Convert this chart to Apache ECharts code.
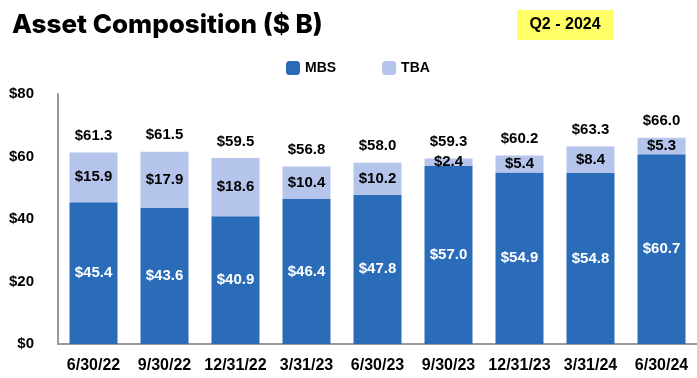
<!DOCTYPE html>
<html><head><meta charset="utf-8">
<script src="https://cdn.jsdelivr.net/npm/echarts@6/dist/echarts.min.js"></script>
<style>html,body{margin:0;padding:0;background:#fff}#c{width:697px;height:378px}</style>
</head><body><div id="c"></div>
<script>
const categories = ['6/30/22','9/30/22','12/31/22','3/31/23','6/30/23','9/30/23','12/31/23','3/31/24','6/30/24'];
const mbs = [45.4, 43.6, 40.9, 46.4, 47.8, 57.0, 54.9, 54.8, 60.7];
const tba = [15.9, 17.9, 18.6, 10.4, 10.2, 2.4, 5.4, 8.4, 5.3];
const totals = [61.3, 61.5, 59.5, 56.8, 58.0, 59.3, 60.2, 63.3, 66.0];
const yTicks = [0, 20, 40, 60, 80];

const F = '"Liberation Sans", Arial, sans-serif';
const chart = echarts.init(document.getElementById('c'), null, {renderer:'canvas'});
chart.setOption({
  animation: false,
  title: {
    text: 'Asset Composition ($ B)', left: 7, top: 7,
    textStyle: {fontFamily: 'Inter, "Liberation Sans", sans-serif', fontWeight: 800, fontSize: 26, color: '#000'}
  },
  graphic: [{
    type: 'group', left: 517, top: 10,
    children: [
      {type: 'rect', shape: {x: 0, y: 0, width: 96, height: 30}, style: {fill: '#FFFF66'}},
      {type: 'text', x: 48, y: 15, style: {text: 'Q2 - 2024', align: 'center', verticalAlign: 'middle', fontFamily: F, fontWeight: 'bold', fontSize: 16, fill: '#000'}}
    ]
  }],
  legend: {
    data: ['MBS', 'TBA'], top: 56, left: 281, itemWidth: 14, itemHeight: 14, itemGap: 46,
    textStyle: {fontFamily: F, fontWeight: 'bold', fontSize: 14, color: '#000'}
  },
  grid: {left: 58, right: -2, top: 94, bottom: 34, containLabel: false},
  xAxis: {
    type: 'category', data: categories,
    axisLine: {lineStyle: {color: '#999', width: 2}},
    axisTick: {show: false},
    axisLabel: {interval: 0, fontFamily: F, fontWeight: 'bold', fontSize: 16, color: '#000', margin: 14}
  },
  yAxis: {
    type: 'value', min: yTicks[0], max: yTicks[yTicks.length-1], interval: 20,
    axisLine: {show: true, lineStyle: {color: '#999', width: 2}},
    axisTick: {show: false},
    splitLine: {show: false},
    axisLabel: {fontFamily: F, fontWeight: 'bold', fontSize: 15, color: '#000', margin: 24, formatter: v => '$' + v}
  },
  series: [
    {
      name: 'MBS', type: 'bar', stack: 'a', data: mbs, barWidth: 48,
      itemStyle: {color: '#2B6CB9'},
      label: {show: true, position: 'inside', color: '#fff', fontFamily: F, fontWeight: 'bold', fontSize: 15, formatter: p => '$' + p.value.toFixed(1)}
    },
    {
      name: 'TBA', type: 'bar', stack: 'a', data: tba, barWidth: 48,
      itemStyle: {color: '#B5C4EA'},
      label: {show: true, position: 'inside', color: '#000', fontFamily: F, fontWeight: 'bold', fontSize: 15, formatter: p => '$' + p.value.toFixed(1)}
    },
    {
      name: 'Total', type: 'bar', stack: 'a', data: totals.map(() => 0), barWidth: 48,
      itemStyle: {color: 'transparent'},
      label: {show: true, position: 'top', distance: 9, color: '#000', fontFamily: F, fontWeight: 'bold', fontSize: 15, formatter: p => '$' + totals[p.dataIndex].toFixed(1)}
    }
  ]
});
</script></body></html>
